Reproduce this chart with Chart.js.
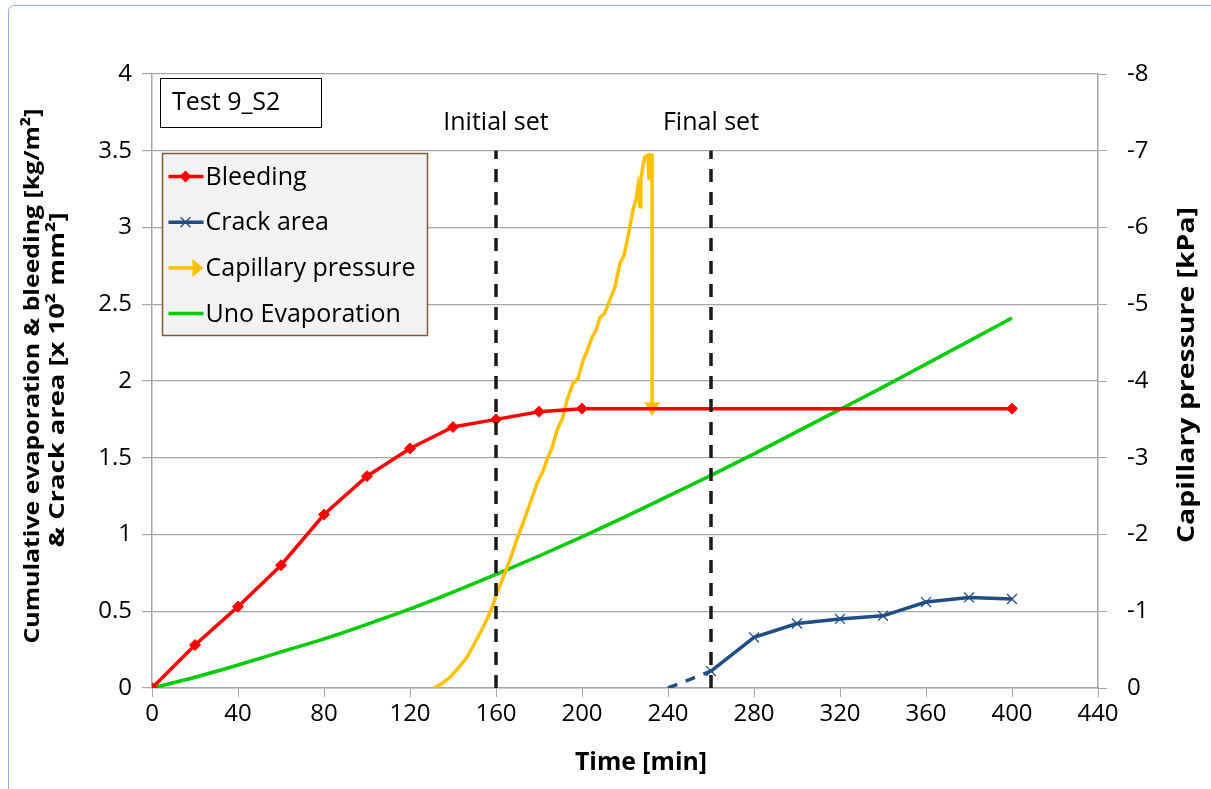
<!DOCTYPE html>
<html><head><meta charset="utf-8">
<script src="https://cdn.jsdelivr.net/npm/chart.js@4.4.0/dist/chart.umd.min.js"></script>
<style>
html,body{margin:0;padding:0;background:#fff;overflow:hidden}
#wrap{position:relative;width:1211px;height:789px;overflow:hidden}
#frame{position:absolute;left:8px;top:5px;width:1230px;height:820px;border:1.5px solid #8fb0dd;border-radius:6px;box-sizing:border-box}
canvas{position:absolute;left:0;top:0}
</style></head><body>
<div id="wrap"><div id="frame"></div><canvas id="c" width="1211" height="789"></canvas></div>
<script>
// ---- data ----
const bleedTime = [0, 20, 40, 60, 80, 100, 120, 140, 160, 180, 200, 400];
const bleedVal  = [0, 0.28, 0.53, 0.80, 1.13, 1.38, 1.56, 1.70, 1.75, 1.80, 1.82, 1.82];

const crackTime = [240, 260, 280, 300, 320, 340, 360, 380, 400];
const crackVal  = [0, 0.11, 0.33, 0.42, 0.45, 0.47, 0.56, 0.59, 0.58];

const capTime = [131, 134.5, 138.6, 142.5, 146.5, 150, 154, 157.5, 160.5, 163.5, 166.5, 169.5, 172.6, 176, 179.1, 181.5, 184.2, 186, 188.4, 191, 193, 195.8, 198, 200.5, 202.5, 204.7, 206.5, 208.4, 210.5, 213, 215.3, 217.7, 219.5, 221.4, 223.7, 225, 226, 227, 227.4, 228.3, 229.3, 230.7, 231.2, 232.1, 232.6, 232.6];
const capVal  = [0, -0.05, -0.14, -0.26, -0.40, -0.58, -0.79, -1.00, -1.24, -1.45, -1.67, -1.92, -2.15, -2.42, -2.67, -2.80, -3.01, -3.12, -3.36, -3.52, -3.75, -3.97, -4.02, -4.27, -4.40, -4.57, -4.66, -4.83, -4.88, -5.06, -5.22, -5.54, -5.63, -5.88, -6.23, -6.35, -6.53, -6.27, -6.62, -6.80, -6.92, -6.94, -6.62, -6.94, -6.94, -3.66];

const evapTime = [0, 20, 40, 60, 80, 100, 120, 140, 160, 180, 200, 220, 240, 260, 280, 300, 320, 340, 360, 380, 400];
const evapVal  = [0, 0.07, 0.15, 0.235, 0.32, 0.415, 0.515, 0.625, 0.74, 0.86, 0.985, 1.115, 1.25, 1.385, 1.525, 1.67, 1.815, 1.96, 2.11, 2.26, 2.41];

const setTimes  = [160, 260];
const setLabels = ['Initial set', 'Final set'];
const setTop = 3.5;

const xTicks = {min: 0, max: 440, step: 40};
const yTicks = {min: 0, max: 4, step: 0.5};
const y2Ticks = {min: -8, max: 0, step: 1};

const seriesNames = ['Bleeding', 'Crack area', 'Capillary pressure', 'Uno Evaporation'];
const seriesColors = ['#ff0000', '#1f4e86', '#ffc000', '#00cc00'];
const boxLabel = 'Test 9_S2';
const xTitle = 'Time [min]';
const yTitle = ['Cumulative evaporation & bleeding [kg/m\u00B2]', '& Crack area [x 10\u00B2 mm\u00B2]'];
const y2Title = 'Capillary pressure [kPa]';

const pts = (xs, ys) => xs.map((v, i) => ({x: v, y: ys[i]}));

const datasets = [];
setTimes.forEach((t) => {
  datasets.push({
    data: [{x: t, y: 0}, {x: t, y: setTop}],
    borderColor: '#1a1a1a', borderWidth: 3.5, borderDash: [13, 10],
    pointRadius: 0, yAxisID: 'y', order: 0
  });
});
datasets.push({
  label: seriesNames[0], data: pts(bleedTime, bleedVal), yAxisID: 'y', order: 2,
  borderColor: seriesColors[0], backgroundColor: seriesColors[0], borderWidth: 3.5,
  pointStyle: 'rectRot', pointRadius: 5.5, pointBorderWidth: 1
});
datasets.push({
  label: seriesNames[1], data: pts(crackTime, crackVal), yAxisID: 'y', order: 3,
  borderColor: seriesColors[1], backgroundColor: seriesColors[1], borderWidth: 3.5,
  pointStyle: 'crossRot', pointRadius: crackTime.map((t, i) => i === 0 ? 0 : 7), pointBorderWidth: 1.3,
  segment: { borderDash: (c) => c.p0DataIndex === 0 ? [10, 9] : undefined }
});
datasets.push({
  label: seriesNames[2], data: pts(capTime, capVal), yAxisID: 'y2', order: 4,
  borderColor: seriesColors[2], backgroundColor: seriesColors[2], borderWidth: 3.5,
  pointStyle: 'triangle', rotation: 180,
  pointRadius: capTime.map((t, i) => i === capTime.length - 1 ? 9 : 0), pointBorderWidth: 0
});
datasets.push({
  label: seriesNames[3], data: pts(evapTime, evapVal), yAxisID: 'y', order: 5,
  borderColor: seriesColors[3], backgroundColor: seriesColors[3], borderWidth: 3.5, pointRadius: 0,
  cubicInterpolationMode: 'monotone'
});

const GRID = '#a6a6a6';
const FONT = 'Open Sans';

function fitText(ctx, text, cx, cy, width, rot) {
  const w = ctx.measureText(text).width;
  ctx.save();
  ctx.translate(cx, cy);
  if (rot) ctx.rotate(rot);
  ctx.scale(width / w, 1);
  ctx.fillText(text, 0, 0);
  ctx.restore();
}

const overlay = {
  id: 'overlay',
  afterDraw(chart) {
    const {ctx, chartArea: a, scales: {x, y}} = chart;
    ctx.save();
    ctx.fillStyle = '#000';
    // set labels
    ctx.font = '25px "' + FONT + '"';
    ctx.textAlign = 'center'; ctx.textBaseline = 'middle';
    setTimes.forEach((t, i) => ctx.fillText(setLabels[i], x.getPixelForValue(t), a.top + 49));
    // test box
    ctx.fillStyle = '#fff'; ctx.fillRect(a.left + 8.5, a.top + 4.5, 161, 49);
    ctx.strokeStyle = '#000'; ctx.lineWidth = 1; ctx.strokeRect(a.left + 8.5, a.top + 4.5, 161, 49);
    ctx.fillStyle = '#000'; ctx.textAlign = 'left';
    ctx.fillText(boxLabel, a.left + 20, a.top + 29);
    // legend box
    const lx = a.left + 10.5, ly = a.top + 79.5, lw = 265, lh = 182;
    ctx.fillStyle = '#f2f2f2'; ctx.fillRect(lx, ly, lw, lh);
    ctx.strokeStyle = '#7f5a35'; ctx.lineWidth = 1.5; ctx.strokeRect(lx, ly, lw, lh);
    ctx.font = '25px "' + FONT + '"';
    seriesNames.forEach((n, i) => {
      const cy = ly + 23 + i * 45.7;
      const c = seriesColors[i];
      ctx.strokeStyle = c; ctx.fillStyle = c; ctx.lineWidth = 3.5;
      if (i !== 2) { ctx.beginPath(); ctx.moveTo(lx + 6, cy); ctx.lineTo(lx + 41, cy); ctx.stroke(); }
      const mx = lx + 23;
      if (i === 0) {
        ctx.beginPath(); ctx.moveTo(mx, cy - 6); ctx.lineTo(mx + 6, cy); ctx.lineTo(mx, cy + 6); ctx.lineTo(mx - 6, cy); ctx.closePath(); ctx.fill();
      } else if (i === 1) {
        ctx.lineWidth = 1.3;
        ctx.beginPath(); ctx.moveTo(mx - 5, cy - 5); ctx.lineTo(mx + 5, cy + 5); ctx.moveTo(mx + 5, cy - 5); ctx.lineTo(mx - 5, cy + 5); ctx.stroke();
      } else if (i === 2) {
        ctx.beginPath(); ctx.moveTo(lx + 6, cy); ctx.lineTo(lx + 32, cy); ctx.stroke();
        ctx.beginPath(); ctx.moveTo(lx + 30, cy - 9); ctx.lineTo(lx + 41, cy); ctx.lineTo(lx + 30, cy + 9); ctx.closePath(); ctx.fill();
      }
      ctx.fillStyle = '#000'; ctx.textAlign = 'left'; ctx.textBaseline = 'middle';
      ctx.fillText(n, lx + 43, cy + 1);
    });
    // axis titles
    ctx.fillStyle = '#000';
    ctx.textAlign = 'center'; ctx.textBaseline = 'middle';
    ctx.font = 'bold 25px "' + FONT + '"';
    fitText(ctx, xTitle, 641, 763, 132, 0);
    ctx.font = 'bold 22px "' + FONT + '"';
    fitText(ctx, yTitle[0], 33, 376, 535, -Math.PI / 2);
    fitText(ctx, yTitle[1], 58, 380, 335, -Math.PI / 2);
    ctx.font = 'bold 23px "' + FONT + '"';
    fitText(ctx, y2Title, 1187, 375, 336, -Math.PI / 2);
    ctx.restore();
  }
};

new Chart(document.getElementById('c'), {
  type: 'line',
  data: {datasets},
  options: {
    responsive: false, animation: false,
    layout: {padding: {top: 74, left: 0, right: 0, bottom: 0}},
    plugins: {legend: {display: false}, tooltip: {enabled: false}},
    elements: {line: {tension: 0}},
    scales: {
      x: {
        type: 'linear', min: xTicks.min, max: xTicks.max,
        afterFit: (s) => { s.height = 101; },
        ticks: {stepSize: xTicks.step, color: '#000', font: {family: FONT, size: 24}, padding: 3, maxRotation: 0},
        grid: {drawOnChartArea: false, color: GRID, tickLength: 9},
        border: {color: GRID, width: 1.5}
      },
      y: {
        type: 'linear', position: 'left', min: yTicks.min, max: yTicks.max,
        afterFit: (s) => { s.width = 152; },
        ticks: {stepSize: yTicks.step, color: '#000', font: {family: FONT, size: 24}, padding: 10,
          callback: (v) => String(Math.round(v * 10) / 10)},
        grid: {color: GRID, lineWidth: 1.2, tickLength: 10},
        border: {color: GRID, width: 1.5}
      },
      y2: {
        type: 'linear', position: 'right', min: y2Ticks.min, max: y2Ticks.max, reverse: true,
        afterFit: (s) => { s.width = 113; },
        ticks: {stepSize: y2Ticks.step, color: '#000', font: {family: FONT, size: 24}, padding: 20,
          callback: (v) => String(v)},
        grid: {drawOnChartArea: false, color: GRID, tickLength: 9},
        border: {color: GRID, width: 1.5}
      }
    }
  },
  plugins: [overlay]
});
</script>
</body></html>
